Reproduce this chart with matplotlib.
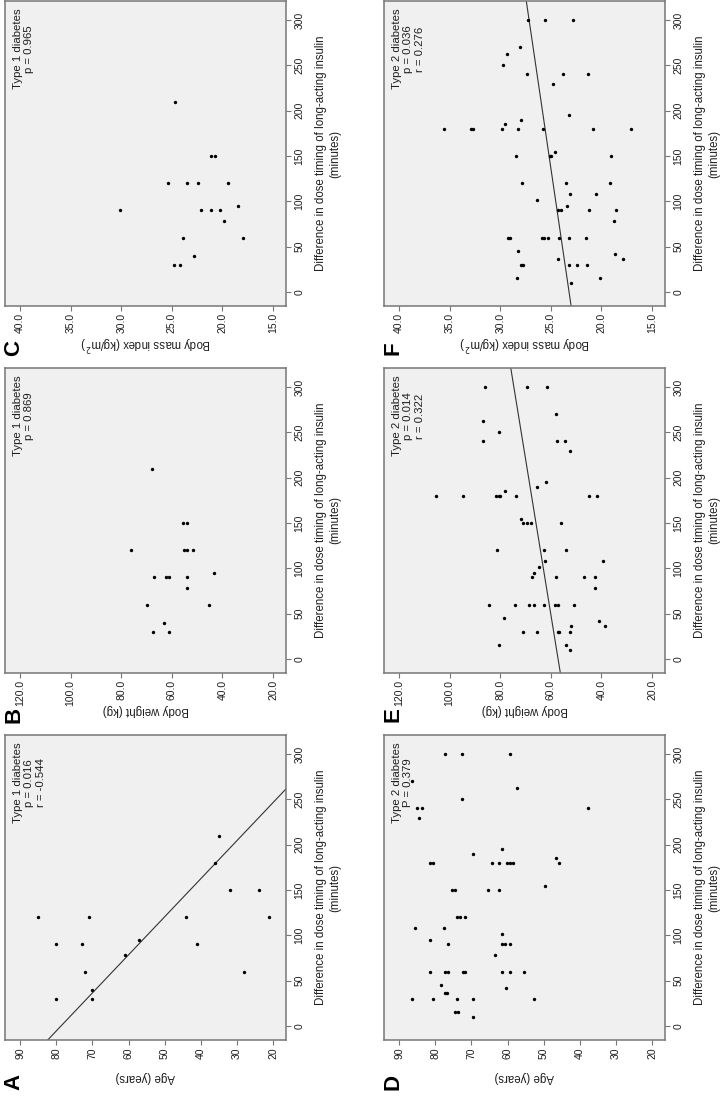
import numpy as np
import matplotlib.pyplot as plt

plt.rcParams['font.family'] = ['Liberation Sans', 'DejaVu Sans']

# type 1 diabetes (18 patients)
t1_minutes = [30, 30, 40, 60, 60, 78, 90, 90, 90, 90, 95, 120, 120, 120, 120, 150, 150, 210]
t1_weight = [67.5, 61, 63, 70, 45.5, 54, 67, 62.3, 61, 54, 43.5, 76, 55, 54, 51.5, 55.5, 54, 68]
t1_bmi = [24.8, 24.2, 22.8, 23.9, 18.0, 19.8, 30.1, 22.1, 21.1, 20.2, 18.4, 25.4, 23.5, 22.4,
          19.4, 21.1, 20.7, 24.7]
# age panel read in its own minute order
t1_age_minutes = [30, 30, 40, 60, 60, 78, 90, 90, 90, 95, 120, 120, 120, 120, 150, 150, 180, 210]
t1_age = [80, 70, 70, 72, 28, 61, 80, 73, 41, 57, 85, 71, 44, 21, 32, 24, 36, 35]

# type 2 diabetes
t2_minutes = ([10, 15, 15] + [30] * 5 + [36, 36, 42, 45] + [60] * 8 + [78] + [90] * 4 +
              [95, 102, 108, 108] + [120] * 3 + [150] * 4 + [155] + [180] * 8 +
              [185, 190, 195, 230] + [240] * 3 + [250, 262, 270] + [300] * 3)
t2_age = [69.5, 74.5, 73.6,
          86.4, 80.5, 74.1, 69.5, 52.7,
          77.3, 76.8, 60.5, 78.5,
          81.4, 77.3, 76.5, 72.3, 71.8, 61.5, 59.4, 55.5,
          63.4,
          76.5, 61.5, 59.4, 60.8,
          81.4, 61.5, 85.5, 77.5,
          74.1, 73.2, 71.8,
          75.5, 74.5, 65.5, 62.3,
          49.5,
          81.4, 80.6, 64.3, 62.3, 60.2, 59.4, 58.5, 45.7,
          46.6, 69.5, 61.5, 84.5,
          85.0, 83.8, 37.7,
          72.7, 57.5, 86.4,
          77.3, 72.5, 59.4]
t2_weight = [52.3, 80.3, 53.9,
             71.0, 65.3, 57.3, 56.8, 52.3,
             52.0, 38.6, 40.8, 78.5,
             84.5, 74.0, 68.6, 66.5, 62.8, 58.2, 57.2, 50.7,
             42.4,
             67.5, 57.9, 47.0, 42.6,
             66.5, 64.8, 62.2, 39.5,
             81.3, 62.5, 54.2,
             70.8, 69.5, 67.8, 55.8,
             71.7,
             105.3, 94.7, 81.5, 80.6, 80.0, 73.6, 44.8, 41.6,
             78.2, 65.3, 62.0, 52.3,
             86.6, 57.6, 54.5,
             80.6, 86.7, 58.0,
             86.1, 69.5, 61.7]
t2_bmi = [23.0, 28.3, 20.1,
          27.9, 27.7, 23.2, 22.4, 21.4,
          24.3, 17.9, 18.6, 28.2,
          29.2, 29.0, 25.9, 25.7, 25.3, 24.2, 23.2, 21.5,
          18.7,
          24.3, 24.0, 21.2, 18.5,
          23.4, 26.4, 23.1, 20.5,
          27.8, 23.5, 19.1,
          28.4, 25.1, 25.0, 19.0,
          24.6,
          35.6, 32.9, 32.7, 29.8, 28.2, 25.8, 20.8, 17.1,
          29.5, 27.9, 23.2, 24.8,
          27.4, 23.8, 21.3,
          29.7, 29.3, 28.0,
          27.3, 25.6, 22.8]

minute_ticks = [0, 50, 100, 150, 200, 250, 300]
age_ticks = [90, 80, 70, 60, 50, 40, 30, 20]
weight_ticks = [120.0, 100.0, 80.0, 60.0, 40.0, 20.0]
bmi_ticks = [40.0, 35.0, 30.0, 25.0, 20.0, 15.0]

W, H = 724, 1102
fig = plt.figure(figsize=(W / 100, H / 100), dpi=100)

col_x = [5, 384]
row_y = [1, 368, 735]
bw, bh = 281, 305
grey = '#f0f0f0'
edge = '#767676'
txt = '#1e1e1e'

panels = [
    # col, row, letter, minutes, values, ticks, fmt, xlim, xlabel, note, fit
    (0, 0, 'C', t1_minutes, t1_bmi, bmi_ticks, '%.1f', (41.5, 13.7),
     'Body mass index (kg/m$^2$)', 'Type 1 diabetes\np = 0.965', False),
    (0, 1, 'B', t1_minutes, t1_weight, weight_ticks, '%.1f', (125.9, 14.9),
     'Body weight (kg)', 'Type 1 diabetes\np = 0.869', False),
    (0, 2, 'A', t1_age_minutes, t1_age, age_ticks, '%d', (94.2, 16.4),
     'Age (years)', 'Type 1 diabetes\np = 0.016\nr = -0.544', True),
    (1, 0, 'F', t2_minutes, t2_bmi, bmi_ticks, '%.1f', (41.5, 13.7),
     'Body mass index (kg/m$^2$)', 'Type 2 diabetes\np = 0.036\nr = 0.276', True),
    (1, 1, 'E', t2_minutes, t2_weight, weight_ticks, '%.1f', (125.9, 14.9),
     'Body weight (kg)', 'Type 2 diabetes\np = 0.014\nr = 0.322', True),
    (1, 2, 'D', t2_minutes, t2_age, age_ticks, '%d', (94.2, 16.4),
     'Age (years)', 'Type 2 diabetes\nP = 0.379', False),
]

ylim = (-15.4, 321)

for col, row, letter, mins, vals, ticks, fmt, xlim, xlabel, note, fit in panels:
    x0, y0 = col_x[col], row_y[row]
    ax = fig.add_axes([x0 / W, 1 - (y0 + bh) / H, bw / W, bh / H])
    ax.set_facecolor(grey)
    ax.scatter(vals, mins, s=6, c='black', linewidths=0, zorder=3)
    if fit:
        b, a = np.polyfit(mins, vals, 1)
        yy = np.array(ylim)
        ax.plot(a + b * yy, yy, color='#333333', lw=0.8, zorder=2)
    ax.set_xlim(*xlim)
    ax.set_ylim(*ylim)
    ax.set_xticks(ticks)
    ax.set_xticklabels([fmt % t for t in ticks])
    ax.set_yticks(minute_ticks)
    ax.yaxis.tick_right()
    ax.tick_params(axis='both', length=3.6, width=0.8, color=edge, labelsize=7.5,
                   labelcolor=txt)
    ax.tick_params(axis='x', labelrotation=90, pad=1.5)
    ax.tick_params(axis='y', labelrotation=90, pad=2.5)
    for lab in ax.get_yticklabels():
        lab.set_va('center')
    for s in ax.spines.values():
        s.set_color(edge)
        s.set_linewidth(1.1)
    ax.set_xlabel(xlabel, rotation=180, fontsize=8.3, color=txt)
    ax.xaxis.set_label_coords(0.5, -37 / bh)
    ax.xaxis.label.set_va('center')
    ax.yaxis.set_label_position('right')
    ax.set_ylabel('Difference in dose timing of long-acting insulin\n(minutes)',
                  rotation=90, fontsize=8.3, color=txt, multialignment='center')
    ax.yaxis.set_label_coords(1 + 42 / bw, 0.5)
    ax.yaxis.label.set_ha('center')
    ax.yaxis.label.set_va('center')
    ax.text(0.028, 0.975, note, transform=ax.transAxes, rotation=90, ha='left', va='top',
            fontsize=8.2, color=txt, multialignment='center')
    fig.text((x0 + 9) / W, 1 - (y0 + bh + 42) / H, letter, rotation=90, fontsize=16,
             fontweight='bold', ha='center', va='center')

fig.savefig('out.png', dpi=100, facecolor='white')
